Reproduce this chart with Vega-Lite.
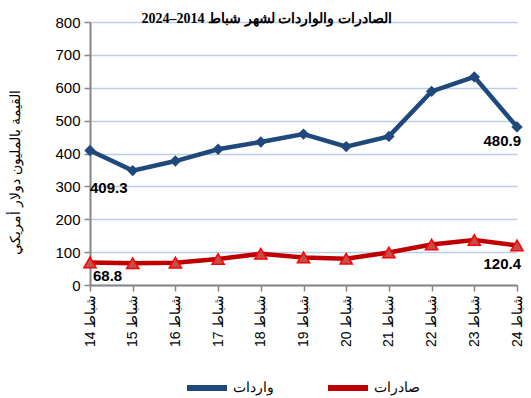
{
  "$schema": "https://vega.github.io/schema/vega-lite/v6.json",
  "width": 427,
  "height": 263,
  "autosize": "none",
  "padding": {"left": 90, "top": 22, "right": 14, "bottom": 113},
  "background": "white",
  "title": {
    "text": "2024–2014 الصادرات والواردات لشهر شباط",
    "font": "Liberation Serif",
    "fontSize": 14,
    "fontWeight": "bold",
    "color": "black",
    "anchor": "middle",
    "dx": -37,
    "offset": -11
  },
  "config": {
    "view": {"stroke": null},
    "font": "Liberation Sans",
    "axis": {
      "labelFont": "Liberation Sans",
      "labelColor": "black",
      "labelFontSize": 15,
      "domainColor": "#868686",
      "domainWidth": 2,
      "tickColor": "#868686",
      "tickWidth": 1.5,
      "tickSize": 6
    }
  },
  "data": {
    "values": [
      {"m": "14 شباط", "s": "واردات", "v": 409.3},
      {"m": "15 شباط", "s": "واردات", "v": 348},
      {"m": "16 شباط", "s": "واردات", "v": 377},
      {"m": "17 شباط", "s": "واردات", "v": 413},
      {"m": "18 شباط", "s": "واردات", "v": 435},
      {"m": "19 شباط", "s": "واردات", "v": 459},
      {"m": "20 شباط", "s": "واردات", "v": 421},
      {"m": "21 شباط", "s": "واردات", "v": 452},
      {"m": "22 شباط", "s": "واردات", "v": 589},
      {"m": "23 شباط", "s": "واردات", "v": 633},
      {"m": "24 شباط", "s": "واردات", "v": 480.9},
      {"m": "14 شباط", "s": "صادرات", "v": 68.8},
      {"m": "15 شباط", "s": "صادرات", "v": 66},
      {"m": "16 شباط", "s": "صادرات", "v": 68},
      {"m": "17 شباط", "s": "صادرات", "v": 79},
      {"m": "18 شباط", "s": "صادرات", "v": 95},
      {"m": "19 شباط", "s": "صادرات", "v": 84},
      {"m": "20 شباط", "s": "صادرات", "v": 80},
      {"m": "21 شباط", "s": "صادرات", "v": 99},
      {"m": "22 شباط", "s": "صادرات", "v": 123},
      {"m": "23 شباط", "s": "صادرات", "v": 137},
      {"m": "24 شباط", "s": "صادرات", "v": 120.4}
    ]
  },
  "encoding": {
    "x": {
      "field": "m",
      "type": "ordinal",
      "sort": null,
      "scale": {"type": "point", "padding": 0},
      "axis": {"title": null, "labelAngle": 270, "labelPadding": 3, "labelFontSize": 14, "grid": false}
    },
    "y": {
      "field": "v",
      "type": "quantitative",
      "scale": {"domain": [0, 800], "nice": false},
      "axis": {
        "values": [0, 100, 200, 300, 400, 500, 600, 700, 800],
        "title": "القيمة بالمليون دولار أمريكي",
        "titleFont": "Liberation Sans",
        "titleFontSize": 14,
        "titleFontWeight": "normal",
        "titleColor": "black",
        "titleAngle": 270,
        "titleAlign": "center",
        "titleBaseline": "middle",
        "titleX": -75,
        "titleY": 150,
        "gridColor": "#b9cde5",
        "gridWidth": 1.5,
        "labelPadding": 4
      }
    }
  },
  "layer": [
    {
      "mark": {"type": "line", "strokeWidth": 4.5},
      "encoding": {
        "color": {
          "field": "s",
          "type": "nominal",
          "scale": {"domain": ["واردات", "صادرات"], "range": ["#1f497d", "#c00000"]},
          "legend": {
            "title": null,
            "orient": "none",
            "direction": "horizontal",
            "legendX": 104,
            "legendY": 353,
            "symbolType": "M-2,0H2",
            "symbolSize": 400,
            "symbolStrokeWidth": 6,
            "labelFont": "Liberation Sans",
            "labelFontSize": 14,
            "labelColor": "black",
            "labelOffset": 13,
            "columnPadding": 42
          }
        }
      }
    },
    {
      "transform": [{"filter": "datum.s == 'واردات'"}],
      "mark": {"type": "point", "shape": "diamond", "filled": true, "size": 130, "color": "#1f497d", "opacity": 1}
    },
    {
      "transform": [{"filter": "datum.s == 'صادرات'"}],
      "mark": {"type": "point", "shape": "triangle-up", "filled": true, "size": 150, "fill": "#c0504d", "stroke": "#ff0000", "strokeWidth": 1.5, "opacity": 1}
    },
    {
      "transform": [{"filter": "datum.s == 'واردات' && datum.m == '14 شباط'"}],
      "mark": {"type": "text", "align": "left", "baseline": "middle", "dx": 0, "dy": 38, "fontSize": 15, "fontWeight": "bold", "color": "black"},
      "encoding": {"text": {"field": "v", "type": "quantitative", "format": ".1f"}}
    },
    {
      "transform": [{"filter": "datum.s == 'صادرات' && datum.m == '14 شباط'"}],
      "mark": {"type": "text", "align": "left", "baseline": "middle", "dx": 3, "dy": 14, "fontSize": 15, "fontWeight": "bold", "color": "black"},
      "encoding": {"text": {"field": "v", "type": "quantitative", "format": ".1f"}}
    },
    {
      "transform": [{"filter": "datum.s == 'واردات' && datum.m == '24 شباط'"}],
      "mark": {"type": "text", "align": "right", "baseline": "middle", "dx": 4, "dy": 14, "fontSize": 15, "fontWeight": "bold", "color": "black"},
      "encoding": {"text": {"field": "v", "type": "quantitative", "format": ".1f"}}
    },
    {
      "transform": [{"filter": "datum.s == 'صادرات' && datum.m == '24 شباط'"}],
      "mark": {"type": "text", "align": "right", "baseline": "middle", "dx": 4, "dy": 19, "fontSize": 15, "fontWeight": "bold", "color": "black"},
      "encoding": {"text": {"field": "v", "type": "quantitative", "format": ".1f"}}
    }
  ]
}
